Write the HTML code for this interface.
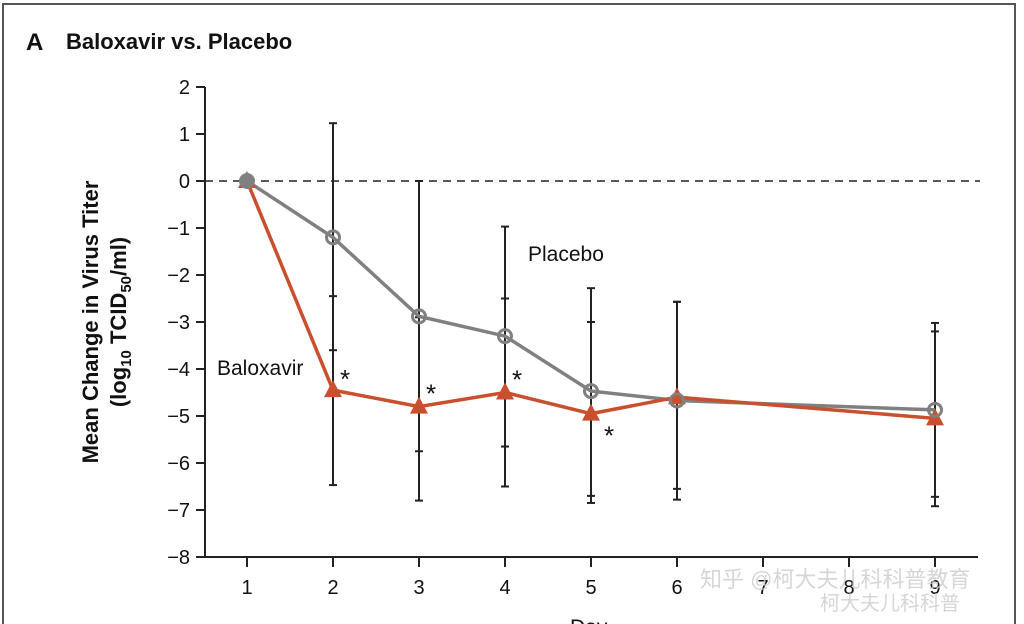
<!DOCTYPE html>
<html><head><meta charset="utf-8"><style>
body{margin:0;background:#fff;width:1024px;height:624px;overflow:hidden;font-family:"Liberation Sans","Noto Sans CJK SC",sans-serif}
</style></head><body>
<svg width="1024" height="624" style="position:absolute;left:0;top:0">
<rect x="3" y="4" width="1012" height="640" fill="none" stroke="#555" stroke-width="2"/>
<text x="26" y="50" font-size="24" font-weight="bold" fill="#111">A</text>
<text x="66" y="49" font-size="22" font-weight="bold" fill="#111">Baloxavir vs. Placebo</text>
<g transform="translate(98,322) rotate(-90)">
<text x="0" y="0" text-anchor="middle" font-size="22" font-weight="bold" fill="#111">Mean Change in Virus Titer</text>
<text x="0" y="28" text-anchor="middle" font-size="22" font-weight="bold" fill="#111">(log<tspan font-size="15" dy="5">10</tspan><tspan dy="-5"> TCID</tspan><tspan font-size="15" dy="5">50</tspan><tspan dy="-5">/ml)</tspan></text>
</g>
<g id="plot"></g>
<text x="570" y="634" font-size="21" fill="#111">Day</text>
<text x="700" y="587" font-size="22" fill="#ccc" opacity="0.8">知乎 @柯大夫儿科科普教育</text>
<text x="820" y="610" font-size="20" fill="#ccc" opacity="0.8">柯大夫儿科科普</text>
</svg>
<script>
const days=[1,2,3,4,5,6,9];
const baloxavir=[0,-4.45,-4.8,-4.5,-4.95,-4.6,-5.05];
const placebo=[0,-1.2,-2.88,-3.3,-4.47,-4.67,-4.87];
const placeboHi=[null,1.23,0,-0.97,-2.28,-2.57,-3.02];
const placeboLo=[null,-3.6,-5.75,-5.65,-6.7,-6.55,-6.72];
const baloxHi=[null,-2.45,-2.9,-2.5,-3.0,-2.57,-3.2];
const baloxLo=[null,-6.47,-6.8,-6.5,-6.85,-6.78,-6.92];
const yTicks=[2,1,0,-1,-2,-3,-4,-5,-6,-7,-8];
const xTicks=[1,2,3,4,5,6,7,8,9];
const X=d=>247+(d-1)*86, Y=v=>181-v*47;
const ns="http://www.w3.org/2000/svg", g=document.getElementById('plot');
function mk(t,a){const e=document.createElementNS(ns,t);for(const k in a)e.setAttribute(k,a[k]);g.appendChild(e);return e;}
let e=mk('line',{x1:205,y1:Y(2),x2:205,y2:Y(-8),stroke:'#222','stroke-width':2});

e=mk('line',{x1:205,y1:Y(-8),x2:978,y2:Y(-8),stroke:'#222','stroke-width':2});

e=mk('line',{x1:205,y1:Y(0),x2:980,y2:Y(0),stroke:'#222','stroke-width':1.5,'stroke-dasharray':'8,6'});

yTicks.forEach(v=>{mk('line',{x1:196,y1:Y(v),x2:205,y2:Y(v),stroke:'#222','stroke-width':2});
 e=mk('text',{x:190,y:Y(v)+7,'text-anchor':'end','font-size':20,fill:'#111'});e.textContent=v<0?'\u2212'+(-v):v;
 });
xTicks.forEach(d=>{mk('line',{x1:X(d),y1:Y(-8),x2:X(d),y2:Y(-8)+10,stroke:'#222','stroke-width':2});
 e=mk('text',{x:X(d),y:Y(-8)+37,'text-anchor':'middle','font-size':20,fill:'#111'});e.textContent=d;
 });
days.forEach((d,i)=>{if(placeboHi[i]===null)return;
 const vals=[placeboHi[i],placeboLo[i],baloxHi[i],baloxLo[i]];
 const top=Math.max(...vals),bot=Math.min(...vals);
 e=mk('line',{x1:X(d),y1:Y(top),x2:X(d),y2:Y(bot),stroke:'#222','stroke-width':2});
 
 vals.forEach(v=>mk('line',{x1:X(d)-4,y1:Y(v),x2:X(d)+4,y2:Y(v),stroke:'#222','stroke-width':2}));});
e=mk('polyline',{points:days.map((d,i)=>X(d)+','+Y(placebo[i])).join(' '),fill:'none',stroke:'#808080','stroke-width':3.5});

e=mk('polyline',{points:days.map((d,i)=>X(d)+','+Y(baloxavir[i])).join(' '),fill:'none',stroke:'#c9502f','stroke-width':3.5});

days.forEach((d,i)=>{const x=X(d),y=Y(baloxavir[i]);
 e=mk('polygon',{points:`${x},${y-10} ${x-9},${y+7} ${x+9},${y+7}`,fill:'#c9502f'});
 });
days.forEach((d,i)=>{
 e=mk('circle',{cx:X(d),cy:Y(placebo[i]),r:6.5,fill:i==0?'#808080':'none',stroke:'#808080','stroke-width':3});
 });
[[2,-4.45,12,-2],[3,-4.8,12,-4],[4,-4.5,12,-4],[5,-4.95,18,31]].forEach(s=>{
 e=mk('text',{x:X(s[0])+s[2],y:Y(s[1])+s[3],'text-anchor':'middle','font-size':26,fill:'#111'});e.textContent='*';
 });
e=mk('text',{x:528,y:261,'font-size':21,fill:'#111'});e.textContent='Placebo';

e=mk('text',{x:217,y:375,'font-size':21,fill:'#111'});e.textContent='Baloxavir';

</script>
</body></html>
